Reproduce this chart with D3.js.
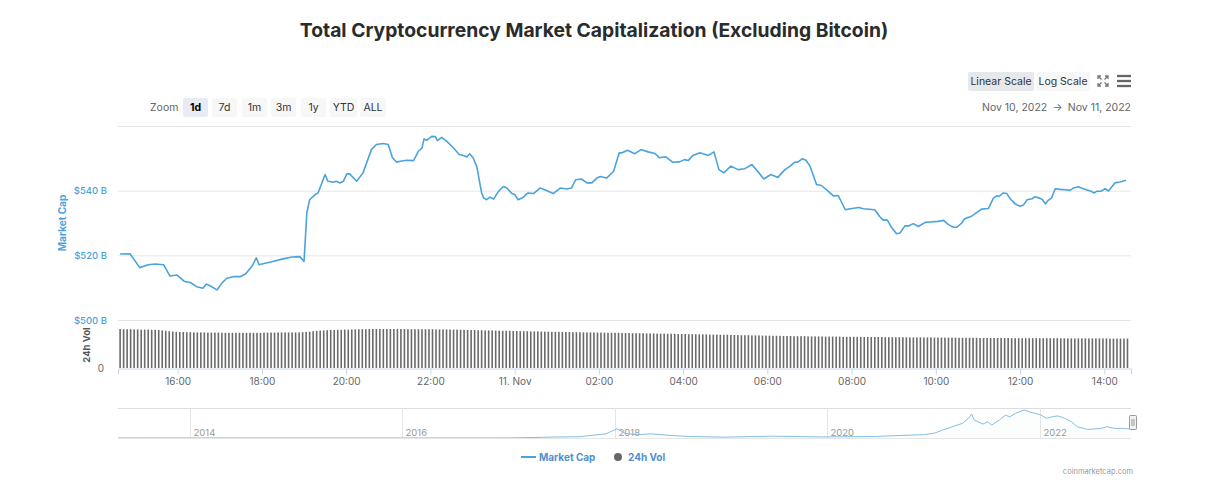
<!DOCTYPE html>
<html><head><meta charset="utf-8">
<script src="https://cdn.jsdelivr.net/npm/d3@7"></script>
<style>
html,body{margin:0;padding:0;background:#fff;}
svg{display:block;font-family:Inter,"Noto Sans",sans-serif;}
</style></head>
<body><svg id="c" width="1219" height="495"></svg>
<script>
// ---------- DATA ----------
const titleText = "Total Cryptocurrency Market Capitalization (Excluding Bitcoin)";
const zoomButtons = ["1d","7d","1m","3m","1y","YTD","ALL"];
const yTickValues = [500, 520, 540, 560];
const yTickLabels = ["$500 B", "$520 B", "$540 B", ""];
const navYearTicks = ["2014","2016","2018","2020","2022"];

const mcTimes = ["10 14:38","10 14:52","10 15:06","10 15:18","10 15:28","10 15:40","10 15:49","10 15:59","10 16:10","10 16:18",
"10 16:27","10 16:36","10 16:41","10 16:46","10 16:56","10 17:03","10 17:10","10 17:19","10 17:29","10 17:37",
"10 17:46","10 17:52","10 17:56","10 18:03","10 18:14","10 18:30","10 18:43","10 18:54","10 19:00","10 19:04",
"10 19:08","10 19:16","10 19:20","10 19:30","10 19:34","10 19:42","10 19:46","10 19:51","10 19:56","10 20:01",
"10 20:05","10 20:15","10 20:24","10 20:36","10 20:43","10 20:53","10 21:00","10 21:06","10 21:12","10 21:17",
"10 21:26","10 21:36","10 21:43","10 21:48","10 21:51","10 21:55","10 22:02","10 22:07","10 22:10","10 22:16",
"10 22:23","10 22:33","10 22:41","10 22:47","10 22:52","10 22:56","10 23:01","10 23:06","10 23:13","10 23:16",
"10 23:20","10 23:25","10 23:30","10 23:37","10 23:44","10 23:49","10 23:56","11 00:00","11 00:05","11 00:12",
"11 00:19","11 00:27","11 00:36","11 00:43","11 00:55","11 01:05","11 01:14","11 01:21","11 01:27","11 01:35",
"11 01:43","11 01:50","11 01:57","11 02:02","11 02:11","11 02:21","11 02:29","11 02:33","11 02:41","11 02:51",
"11 03:00","11 03:10","11 03:20","11 03:26","11 03:35","11 03:45","11 03:55","11 04:02","11 04:07","11 04:14",
"11 04:24","11 04:36","11 04:44","11 04:51","11 04:58","11 05:08","11 05:18","11 05:28","11 05:38","11 05:48",
"11 05:55","11 06:05","11 06:15","11 06:25","11 06:32","11 06:39","11 06:44","11 06:50","11 06:55","11 07:01",
"11 07:10","11 07:17","11 07:27","11 07:34","11 07:41","11 07:51","11 07:58","11 08:10","11 08:17","11 08:33",
"11 08:40","11 08:45","11 08:51","11 08:57","11 09:04","11 09:09","11 09:16","11 09:21","11 09:28","11 09:35",
"11 09:45","11 09:52","11 10:03","11 10:11","11 10:18","11 10:25","11 10:30","11 10:37","11 10:41","11 10:51",
"11 10:58","11 11:05","11 11:15","11 11:22","11 11:27","11 11:30","11 11:36","11 11:41","11 11:46","11 11:53",
"11 12:00","11 12:05","11 12:10","11 12:17","11 12:21","11 12:28","11 12:32","11 12:36","11 12:40","11 12:45",
"11 12:50","11 12:57","11 13:04","11 13:11","11 13:16","11 13:23","11 13:30","11 13:40","11 13:46","11 13:49",
"11 13:55","11 14:01","11 14:06","11 14:15","11 14:22","11 14:31"];
const mcValues = [520.4,520.5,516.2,517.1,517.3,517.1,513.6,513.9,511.9,511.6,
510.3,509.8,511.1,510.6,509.3,511.4,512.9,513.4,513.4,514.3,
516.7,519.2,517.1,517.5,518.0,518.9,519.5,519.6,518.1,533.1,
537.2,538.8,539.3,545.0,542.9,542.6,542.9,542.4,542.9,545.2,
545.2,542.9,545.5,552.7,554.3,554.6,554.3,550.2,548.8,549.1,
549.4,549.3,552.2,553.2,556.0,555.6,556.8,556.7,555.5,556.5,
555.3,553.2,551.2,550.9,550.4,551.4,550.1,547.5,539.3,537.7,
537.2,538.0,537.4,539.8,541.3,540.8,539.1,538.8,537.2,537.9,
539.3,539.1,540.8,540.3,539.1,540.8,540.5,540.8,543.4,543.6,
542.4,542.4,543.9,544.4,543.9,546.0,551.7,551.7,552.5,551.4,
552.7,552.0,551.5,550.2,550.5,548.8,548.9,549.6,549.3,550.9,
551.7,550.9,552.0,546.5,545.5,547.6,546.5,546.8,548.1,545.5,
543.6,545.0,544.1,546.5,547.5,548.8,548.9,549.9,549.4,547.5,
541.9,541.6,539.8,538.4,538.5,534.1,534.4,534.8,534.4,534.1,
532.0,530.9,530.9,528.6,526.7,526.9,529.1,529.1,529.8,528.9,
530.2,530.3,530.5,530.8,529.5,528.7,528.7,530.0,531.3,532.1,
533.2,534.3,534.5,537.7,538.4,538.2,539.3,539.1,537.5,535.9,
535.2,535.6,537.2,537.5,538.1,537.7,537.2,535.9,537.0,537.8,
540.6,540.4,540.3,540.1,540.8,541.2,540.6,539.9,539.3,539.8,
539.8,540.6,539.9,542.4,542.7,543.2];

// 24h volume (B), one bar every 5 minutes starting Nov 10 14:38
const volStart = "10 14:38";
const volValues = [
97.5,97,97,97,96.5,96.5,96,96,96,95.5,95.5,95,
94,93,92,91,90.5,90,90,89.5,89.5,89,89,89,
89,88.5,88.5,88.5,88.5,88,88,88,88,88,88,88,
88,88,88,88,88,88.5,88.5,88.5,88.5,89,89,89,
89,89,89,89,89.5,90,91,92,93,93.5,94,94.5,
95,95,95.5,95.5,96,96,96.5,96.5,97,97,97,97.5,
97.5,97.5,97.5,97.5,97.5,97.5,97.5,97.5,97.5,97.5,97,97,
97,97,97,97,97,97,96.5,96.5,96.5,96.5,96,96,
96,95.5,95.5,95,95,95,94.5,94.5,94,94,94,93.5,
93.5,93,93,93,92.5,92.5,92,92,92,91.5,91.5,91.5,
91,91,91,90.5,90.5,90.5,90,90,90,89.5,89.5,89.5,
89,89,89,89,88.5,88.5,88.5,88,88,88,88,87.5,
87.5,87.5,87,87,87,87,86.5,86.5,86.5,86,86,86,
85.5,85.5,85.5,85,85,85,84.5,84.5,84.5,84,84,84,
83.5,83.5,83.5,83,83,83,82.5,82.5,82.5,82,82,82,
81.5,81.5,81.5,81,81,81,80.5,80.5,80.5,80,80,80,
79.5,79.5,79.5,79.5,79,79,79,79,79,78.5,78.5,78.5,
78.5,78.5,78,78,78,78,78,78,77.5,77.5,77.5,77.5,
77.5,77.5,77,77,77,77,77,77,77,76.5,76.5,76.5,
76.5,76.5,76.5,76.5,76,76,76,76,76,76,76,75.5,
75.5,75.5,75.5,75.5,75.5,75,75,75,75,75,75,75,
75,75,74.5,74.5,74.5,74.5,74.5,74.5,74.5,74.5,74.5,74.5,
74.5,74.5,74.5,74.5,74,74,74,74,74,74,74,74,
74,74,74,74,74,74,73.5,73.5,73.5,73.5,73.5,73.5];

// navigator (all-time market cap excl. BTC, $B)
const navDates = ["2013-04-28","2014-01-01","2015-01-01","2016-01-01","2016-07-01","2017-01-01","2017-05-01","2017-06-15","2017-09-01","2017-12-01",
"2018-01-08","2018-02-06","2018-03-15","2018-05-05","2018-07-15","2018-09-15","2019-01-15","2019-06-25","2019-12-15","2020-06-15",
"2020-09-01","2020-12-01","2021-01-05","2021-02-01","2021-03-01","2021-04-10","2021-05-01","2021-05-12","2021-05-20","2021-06-20",
"2021-07-05","2021-07-20","2021-08-15","2021-09-05","2021-09-20","2021-10-10","2021-11-08","2021-11-25","2021-12-15","2022-01-05",
"2022-01-25","2022-02-15","2022-03-05","2022-03-28","2022-04-20","2022-05-10","2022-06-15","2022-07-05","2022-08-01","2022-08-20",
"2022-09-15","2022-10-15","2022-11-10"];
const navValues = [2,4,3,3,6,8,40,60,80,250,
560,280,200,250,150,90,50,110,65,90,
150,200,300,480,645,886,1180,1447,1090,840,
980,780,1080,1380,1280,1490,1690,1590,1490,1390,
1190,1290,1330,1190,980,680,520,540,580,680,
580,580,540];

// ---------- DRAW ----------
const svg = d3.select("#c");
const parseT = d3.timeParse("%Y-%m-%d %H:%M");
const pt = s => parseT("2022-11-" + s);
const blue = "#4aa3dc";
const L = 118, R = 1131;

svg.append("text").attr("x", 594).attr("y", 37).attr("text-anchor","middle")
  .attr("font-size", 19.3).attr("font-weight", 700).attr("fill", "#2b2b2b").text(titleText);

// scales
const x = d3.scaleTime().domain([pt("10 14:35"), pt("11 14:38")]).range([L, R]);
const y = d3.scaleLinear().domain([500, 560]).range([320, 126]);
const yv = d3.scaleLinear().domain([0, 100]).range([368, 328]);

// gridlines + y labels
const gy = svg.append("g").attr("transform", `translate(${L},0)`)
  .call(d3.axisLeft(y).tickValues(yTickValues).tickSize(-(R - L))
    .tickFormat((d,i) => yTickLabels[i]));
gy.select(".domain").remove();
gy.selectAll(".tick line").attr("stroke", "#e6e6e6");
gy.selectAll(".tick text").attr("fill", blue).attr("font-size", 9.5).attr("font-family","Inter")
  .attr("font-weight", 500).attr("x", -11).attr("dy", "0.32em");

svg.append("text").attr("transform", "translate(66,223) rotate(-90)").attr("text-anchor","middle")
  .attr("font-size", 10).attr("font-weight", 700).attr("fill", blue).text("Market Cap");
svg.append("text").attr("transform", "translate(90,345) rotate(-90)").attr("text-anchor","middle")
  .attr("font-size", 9.5).attr("font-weight", 700).attr("fill", "#555").text("24h Vol");
svg.append("text").attr("x", 104).attr("y", 372).attr("text-anchor","end")
  .attr("font-size", 10).attr("fill", "#666").text("0");

// volume bars
const v0 = pt(volStart);
const vol = volValues.map((v, i) => ({t: d3.timeMinute.offset(v0, 5 * i), v}));
svg.append("g").selectAll("rect").data(vol).join("rect")
  .attr("x", d => x(d.t) - 0.8).attr("width", 1.6)
  .attr("y", d => yv(d.v)).attr("height", d => yv(0) - yv(d.v))
  .attr("fill", "#6a6a6a");

// x axis
const gx = svg.append("g").attr("transform", "translate(0,368.5)")
  .call(d3.axisBottom(x).ticks(d3.timeHour.every(2)).tickSize(6).tickPadding(3)
    .tickFormat(d => d.getHours() === 0 ? "11. Nov" : d3.timeFormat("%H:%M")(d)));
gx.select(".domain").attr("stroke", "#ccd6eb");
gx.selectAll(".tick line").attr("stroke", "#ccd6eb");
gx.selectAll(".tick text").attr("fill", "#666").attr("font-size", 10).attr("font-family","Inter");

// market cap line
const mc = mcTimes.map((t, i) => ({t: pt(t), v: mcValues[i]}));
svg.append("path").datum(mc).attr("fill", "none").attr("stroke", blue).attr("stroke-width", 1.6)
  .attr("stroke-linejoin","round")
  .attr("d", d3.line().x(d => x(d.t)).y(d => y(d.v)));

// toolbar: zoom buttons
svg.append("text").attr("x", 150).attr("y", 111).attr("font-size", 10.5).attr("fill", "#666").text("Zoom");
const bx = [183, 212, 242, 271, 301, 330, 360];
const bw = [25, 25, 25, 25, 25, 27, 26];
zoomButtons.forEach((b, i) => {
  svg.append("rect").attr("x", bx[i]).attr("y", 98).attr("width", bw[i]).attr("height", 19).attr("rx", 2)
    .attr("fill", i === 0 ? "#e6ebf5" : "#f7f7f7");
  svg.append("text").attr("x", bx[i] + bw[i] / 2).attr("y", 111).attr("text-anchor","middle")
    .attr("font-size", 10.5).attr("font-weight", i === 0 ? 700 : 400).attr("fill", i === 0 ? "#000" : "#333").text(b);
});

// date range
svg.append("text").attr("x", 1131).attr("y", 111).attr("text-anchor","end")
  .attr("font-size", 10.5).attr("fill", "#666").text("Nov 10, 2022\u2002\u2192\u2002Nov 11, 2022");

// scale buttons
svg.append("rect").attr("x", 968).attr("y", 72).attr("width", 66).attr("height", 19).attr("rx", 2).attr("fill", "#e6e8ec");
svg.append("text").attr("x", 1001).attr("y", 85).attr("text-anchor","middle").attr("font-size", 10.5).attr("fill", "#333").text("Linear Scale");
svg.append("rect").attr("x", 1036).attr("y", 72).attr("width", 54).attr("height", 19).attr("rx", 2).attr("fill", "#f7f7f7");
svg.append("text").attr("x", 1063).attr("y", 85).attr("text-anchor","middle").attr("font-size", 10.5).attr("fill", "#333").text("Log Scale");
// fullscreen icon
const fs = svg.append("g").attr("stroke", "#777").attr("stroke-width", 1.3).attr("fill", "none");
[[1098,76,1,1],[1108,76,-1,1],[1098,86,1,-1],[1108,86,-1,-1]].forEach(([a,b,sx,sy]) => {
  fs.append("path").attr("d", `M${a},${b+3*sy}L${a},${b}L${a+3*sx},${b}M${a},${b}L${a+3.5*sx},${b+3.5*sy}`);
});
// menu icon
[76, 81, 86].forEach(yy => svg.append("line").attr("x1", 1117).attr("x2", 1131).attr("y1", yy).attr("y2", yy)
  .attr("stroke", "#666").attr("stroke-width", 2.3));

// navigator
const nx = d3.scaleTime().domain([new Date(2013, 3, 28), new Date(2022, 10, 11)]).range([L, R]);
const ny = d3.scaleLinear().domain([0, 1750]).range([438, 409]);
svg.append("line").attr("x1", L).attr("x2", R).attr("y1", 408.5).attr("y2", 408.5).attr("stroke", "#ddd");
navYearTicks.forEach(yr => {
  const xx = Math.round(nx(new Date(+yr, 0, 1))) + 0.5;
  svg.append("line").attr("x1", xx).attr("x2", xx).attr("y1", 408).attr("y2", 438).attr("stroke", "#e6e6e6");
  svg.append("text").attr("x", xx + 3).attr("y", 436).attr("font-size", 9.5).attr("fill", "#999").text(yr);
});
const nav = navDates.map((d, i) => ({t: d3.timeParse("%Y-%m-%d")(d), v: navValues[i]}));
svg.append("path").datum(nav).attr("fill", "rgba(74,163,220,0.015)")
  .attr("d", d3.area().x(d => nx(d.t)).y0(438).y1(d => ny(d.v)));
svg.append("path").datum(nav).attr("fill", "none").attr("stroke", "#86bde2").attr("stroke-width", 1)
  .attr("d", d3.line().x(d => nx(d.t)).y(d => ny(d.v)));
svg.append("line").attr("x1", L).attr("x2", R).attr("y1", 438.5).attr("y2", 438.5).attr("stroke", "#e6e6e6");
svg.append("rect").attr("x", 1129.5).attr("y", 415.5).attr("width", 7).attr("height", 14).attr("rx", 1)
  .attr("fill", "#f2f2f2").attr("stroke", "#999");
[1132, 1134].forEach(xx => svg.append("line").attr("x1", xx).attr("x2", xx).attr("y1", 419).attr("y2", 426).attr("stroke", "#999"));

// legend
svg.append("line").attr("x1", 521).attr("x2", 536).attr("y1", 457).attr("y2", 457).attr("stroke", blue).attr("stroke-width", 2);
svg.append("text").attr("x", 539).attr("y", 461).attr("font-size", 10).attr("font-weight", 700).attr("fill", "#4f8fce").text("Market Cap");
svg.append("circle").attr("cx", 618).attr("cy", 457).attr("r", 4).attr("fill", "#666");
svg.append("text").attr("x", 628).attr("y", 461).attr("font-size", 10).attr("font-weight", 700).attr("fill", "#4f8fce").text("24h Vol");

// credits
svg.append("text").attr("x", 1133).attr("y", 474).attr("text-anchor","end").attr("font-size", 7.5).attr("fill", "#999").text("coinmarketcap.com");
</script></body></html>
